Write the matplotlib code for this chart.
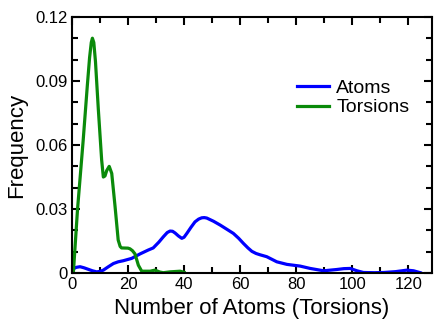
import matplotlib
matplotlib.use("Agg")
import matplotlib.pyplot as plt
from matplotlib.ticker import MultipleLocator

plt.rcParams['font.family'] = ['Liberation Sans', 'DejaVu Sans']

atoms_x = [0.5, 1.5, 2.9, 4.3, 5.8, 7.3, 8.8, 10.0, 11.2, 13.0, 14.8, 16.5, 18.3,
           21.3, 24.3, 27.2, 29.0, 31.0, 32.6, 34.0, 35.0, 35.9, 36.8, 38.0, 39.2,
           40.0, 41.0, 42.5, 43.9, 45.2, 46.3, 47.2, 48.1, 50.5, 52.9, 55.2, 57.6,
           59.5, 61.2, 62.8, 64.2, 65.7, 67.1, 69.5, 71.3, 73.1, 76.7, 81.4, 85.0,
           89.8, 94.5, 97.0, 99.3, 101.7, 104.0, 108.0, 111.2, 115.5, 119.5,
           121.9, 124.3]
atoms_y = [0.0020, 0.0027, 0.0030, 0.0025, 0.0018, 0.0011, 0.0006, 0.0008, 0.0014,
           0.0030, 0.0045, 0.0053, 0.0058, 0.0069, 0.0090, 0.0108, 0.0118, 0.0145,
           0.0170, 0.0190, 0.0197, 0.0196, 0.0188, 0.0174, 0.0163, 0.0168, 0.0186,
           0.0215, 0.0240, 0.0253, 0.0259, 0.0260, 0.0258, 0.0243, 0.0225, 0.0206,
           0.0186, 0.0163, 0.0139, 0.0118, 0.0102, 0.0092, 0.0086, 0.0077, 0.0065,
           0.0053, 0.0041, 0.0033, 0.0022, 0.0011, 0.0017, 0.0021, 0.0022, 0.0011,
           0.0003, 0.0002, 0.0003, 0.0007, 0.0014, 0.0011, 0.0002]

tors_x = [0.5, 2.0, 4.0, 5.5, 6.3, 6.9, 7.3, 7.8, 8.4, 9.4, 10.6, 11.2, 11.8, 12.4,
          13.3, 14.2, 15.4, 16.5, 17.2, 17.7, 20.0, 20.7, 21.6, 22.5, 23.7, 24.9,
          27.9, 29.6, 31.4, 32.6, 35.0, 38.6, 40.0]
tors_y = [0.0000, 0.0300, 0.0620, 0.0880, 0.1010, 0.1080, 0.1100, 0.1080, 0.0990,
          0.0770, 0.0530, 0.0450, 0.0455, 0.0480, 0.0500, 0.0467, 0.0310, 0.0155,
          0.0125, 0.0118, 0.0117, 0.0114, 0.0105, 0.0090, 0.0037, 0.0009, 0.0009,
          0.0014, 0.0005, 0.0002, 0.0006, 0.0009, 0.0004]

fig = plt.figure(figsize=(4.36, 3.24), dpi=100)
ax = fig.add_axes([0.165, 0.157, 0.826, 0.791])

ax.plot(atoms_x, atoms_y, color='#0000ff', lw=2.3, label='Atoms',
        solid_joinstyle='round')
ax.plot(tors_x, tors_y, color='#0a8a0a', lw=2.3, label='Torsions',
        solid_joinstyle='round')

ax.set_xlim(0, 128.5)
ax.set_ylim(0, 0.12)
ax.xaxis.set_minor_locator(MultipleLocator(10))
ax.yaxis.set_minor_locator(MultipleLocator(0.01))
ax.set_yticks([0, 0.03, 0.06, 0.09, 0.12])
ax.set_yticklabels(['0', '0.03', '0.06', '0.09', '0.12'])
ax.set_xticks([0, 20, 40, 60, 80, 100, 120])
ax.set_xticklabels(['0', '20', '40', '60', '80', '100', '120'])

ax.tick_params(which='both', direction='in', top=True, right=True, width=1.5,
               labelsize=12, pad=3)
ax.tick_params(which='major', length=6)
ax.tick_params(which='minor', length=4)
for s in ax.spines.values():
    s.set_linewidth(1.5)

ax.set_xlabel('Number of Atoms (Torsions)', fontsize=16, labelpad=4)
ax.set_ylabel('Frequency', fontsize=16, labelpad=6)

ax.legend(loc='upper right', bbox_to_anchor=(0.975, 0.81), frameon=False,
          fontsize=14, handlelength=1.65, handletextpad=0.36, labelspacing=0.1,
          borderpad=0.2)

fig.savefig('out.png', dpi=100)
